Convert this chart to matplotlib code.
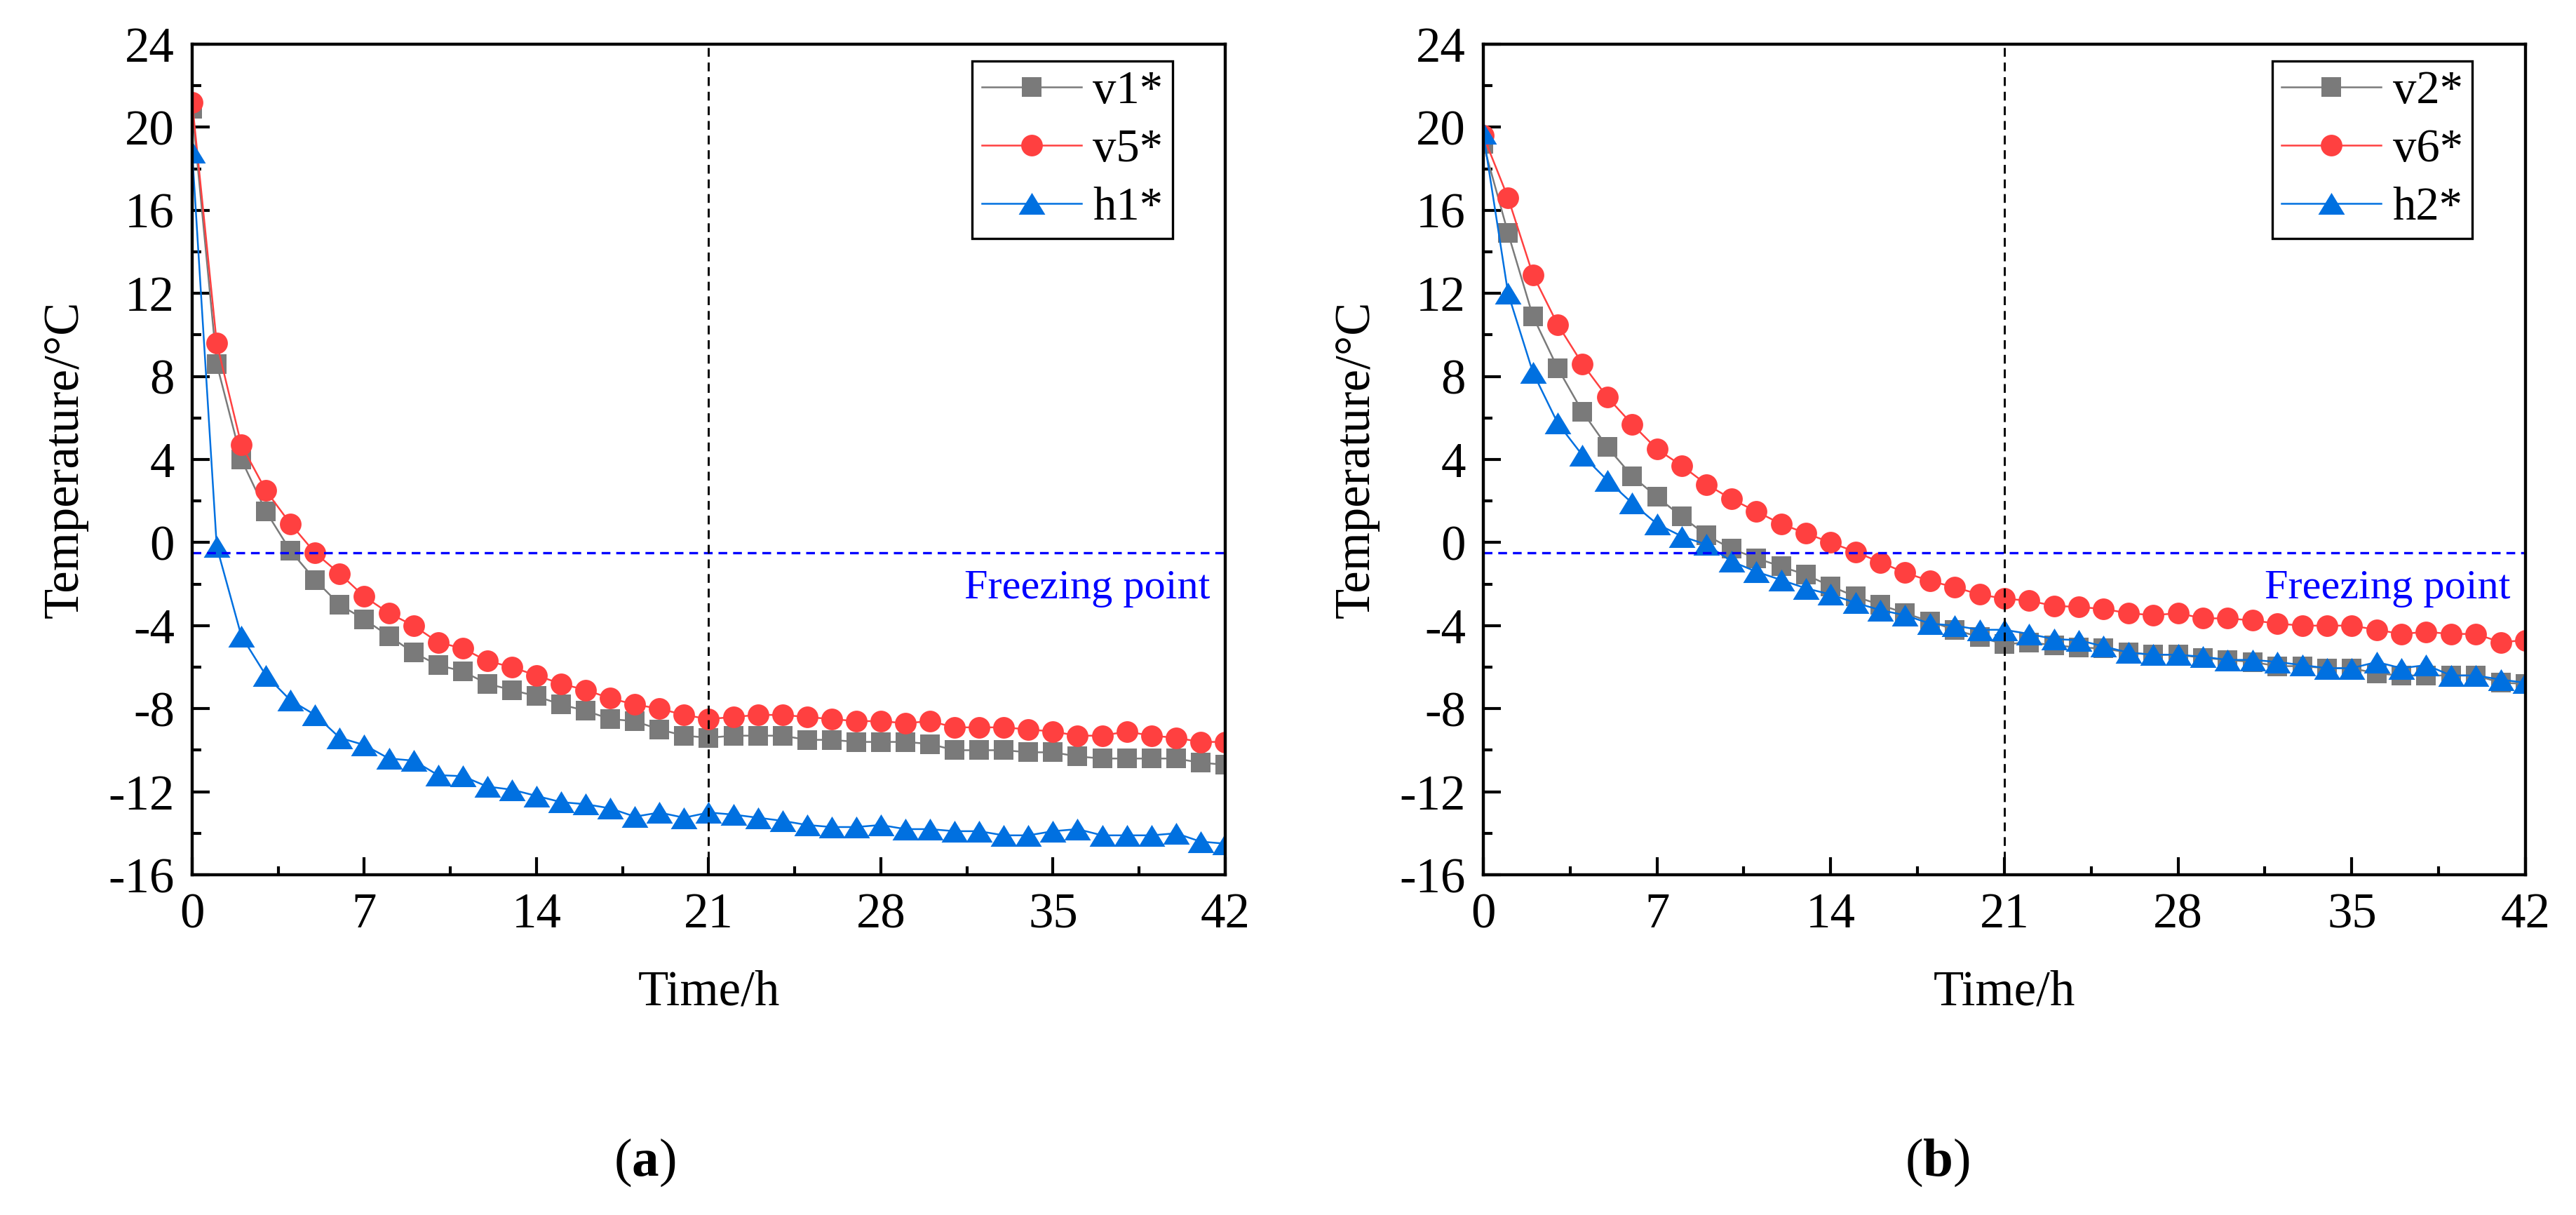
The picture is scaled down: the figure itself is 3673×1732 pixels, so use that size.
import numpy as np
import matplotlib
matplotlib.use("Agg")
import matplotlib.pyplot as plt
from matplotlib.ticker import MultipleLocator

plt.rcParams['font.family'] = ['Liberation Serif', 'DejaVu Serif']
plt.rcParams['mathtext.fontset'] = 'custom'
plt.rcParams['mathtext.rm'] = 'Liberation Serif'
plt.rcParams['mathtext.bf'] = 'Liberation Serif:bold'
plt.rcParams['axes.unicode_minus'] = False
plt.rcParams['lines.scale_dashes'] = False

# time axis, one reading per hour
hours = list(range(43))

# panel (a)
v1 = [20.9, 8.6, 4.0, 1.5, -0.4, -1.8, -3.0, -3.7, -4.5, -5.3,
      -5.9, -6.2, -6.8, -7.1, -7.4, -7.8, -8.1, -8.5, -8.6, -9.0,
      -9.3, -9.4, -9.3, -9.3, -9.3, -9.5, -9.5, -9.6, -9.6, -9.6,
      -9.7, -10.0, -10.0, -10.0, -10.1, -10.1, -10.3, -10.4, -10.4, -10.4,
      -10.4, -10.6, -10.7]
v5 = [21.2, 9.6, 4.7, 2.5, 0.9, -0.5, -1.5, -2.6, -3.4, -4.0,
      -4.8, -5.1, -5.7, -6.0, -6.4, -6.8, -7.1, -7.5, -7.8, -8.0,
      -8.3, -8.5, -8.4, -8.3, -8.3, -8.4, -8.5, -8.6, -8.6, -8.7,
      -8.6, -8.9, -8.9, -8.9, -9.0, -9.1, -9.3, -9.3, -9.1, -9.3,
      -9.4, -9.6, -9.6]
h1 = [18.8, -0.2, -4.5, -6.4, -7.6, -8.3, -9.4, -9.75, -10.4, -10.5,
      -11.2, -11.25, -11.75, -11.9, -12.2, -12.5, -12.6, -12.8, -13.2, -13.0,
      -13.25, -13.0, -13.1, -13.25, -13.4, -13.6, -13.7, -13.7, -13.6, -13.8,
      -13.8, -13.9, -13.9, -14.1, -14.1, -13.9, -13.8, -14.1, -14.1, -14.1,
      -14.0, -14.4, -14.5]

# panel (b)
v2 = [19.2, 14.9, 10.9, 8.4, 6.3, 4.6, 3.2, 2.2, 1.25, 0.35,
      -0.3, -0.75, -1.15, -1.55, -2.1, -2.6, -3.0, -3.4, -3.8, -4.2,
      -4.55, -4.9, -4.8, -4.95, -5.05, -5.1, -5.3, -5.4, -5.4, -5.55,
      -5.65, -5.75, -5.95, -5.95, -6.05, -6.05, -6.3, -6.4, -6.4, -6.4,
      -6.4, -6.75, -6.8]
v6 = [19.6, 16.6, 12.9, 10.5, 8.6, 7.0, 5.7, 4.5, 3.7, 2.8,
      2.1, 1.5, 0.9, 0.45, 0.0, -0.45, -0.95, -1.45, -1.85, -2.15,
      -2.5, -2.7, -2.8, -3.05, -3.1, -3.2, -3.4, -3.5, -3.4, -3.65,
      -3.65, -3.75, -3.9, -4.0, -4.0, -4.0, -4.2, -4.4, -4.3, -4.4,
      -4.4, -4.8, -4.7]
h2 = [19.7, 12.0, 8.2, 5.75, 4.2, 3.0, 1.9, 0.9, 0.3, -0.1,
      -0.9, -1.4, -1.8, -2.2, -2.5, -2.9, -3.25, -3.5, -3.9, -4.0,
      -4.2, -4.2, -4.4, -4.65, -4.7, -5.0, -5.3, -5.4, -5.4, -5.5,
      -5.65, -5.65, -5.75, -5.9, -6.05, -6.05, -5.75, -6.05, -5.9, -6.4,
      -6.4, -6.6, -6.75]

freezing_point = -0.5
mark_hour = 21

gray = '#7a7a7a'
red = '#ff4040'
blue = '#0070e0'

# Origin-like triangle: a bit wider than tall
tri = [(-1, -0.82), (1, -0.82), (0, 0.82), (-1, -0.82)]

fig = plt.figure(figsize=(3673 / 300, 1732 / 300), dpi=300)
ax_a = fig.add_axes([0.0746, 0.280, 0.4010, 0.6836])
ax_b = fig.add_axes([0.5758, 0.280, 0.4046, 0.6836])


def draw(ax, series, names, tag, tag_x):
    styles = [(gray, 's', 6.7), (red, 'o', 7.4), (blue, tri, 9.1)]
    for ys, name, (c, m, ms) in zip(series, names, styles):
        ax.plot(hours, ys, color=c, marker=m, markersize=ms, lw=0.6,
                markeredgewidth=0, label=name)
    ax.axhline(freezing_point, color='#0000ff', lw=0.8, dashes=(3, 2))
    ax.axvline(mark_hour, color='black', lw=0.7, dashes=(3, 2))
    ax.text(41.4, -2.2, 'Freezing point', color='#0000ff', ha='right',
            va='center', fontsize=14.5)

    ax.set_xlim(0, 42)
    ax.set_ylim(-16, 24)
    ax.xaxis.set_major_locator(MultipleLocator(7))
    ax.xaxis.set_minor_locator(MultipleLocator(3.5))
    ax.yaxis.set_major_locator(MultipleLocator(4))
    ax.yaxis.set_minor_locator(MultipleLocator(2))
    ax.tick_params(which='both', direction='in', top=False, right=False,
                   width=1.0, labelsize=17, pad=6)
    ax.tick_params(which='major', length=6)
    ax.tick_params(which='minor', length=3)
    for sp in ax.spines.values():
        sp.set_linewidth(1.05)

    ax.set_xlabel('Time/h', fontsize=17, labelpad=11)
    ax.set_ylabel('Temperature/°C', fontsize=17, labelpad=7)

    leg = ax.legend(loc='upper right', bbox_to_anchor=(0.949, 0.98),
                    borderaxespad=0, fontsize=16, numpoints=1,
                    handlelength=2.13, handletextpad=0.25, borderpad=0.2,
                    labelspacing=0.33, fancybox=False, framealpha=1,
                    edgecolor='black')
    leg.get_frame().set_linewidth(0.8)

    fig.text(tag_x, 0.0433, r'($\mathbf{' + tag + r'}$)', ha='center',
             va='center', fontsize=18.5)


draw(ax_a, [v1, v5, h1], ['v1*', 'v5*', 'h1*'], 'a', 0.2502)
draw(ax_b, [v2, v6, h2], ['v2*', 'v6*', 'h2*'], 'b', 0.752)

fig.savefig('out.png', dpi=300)
